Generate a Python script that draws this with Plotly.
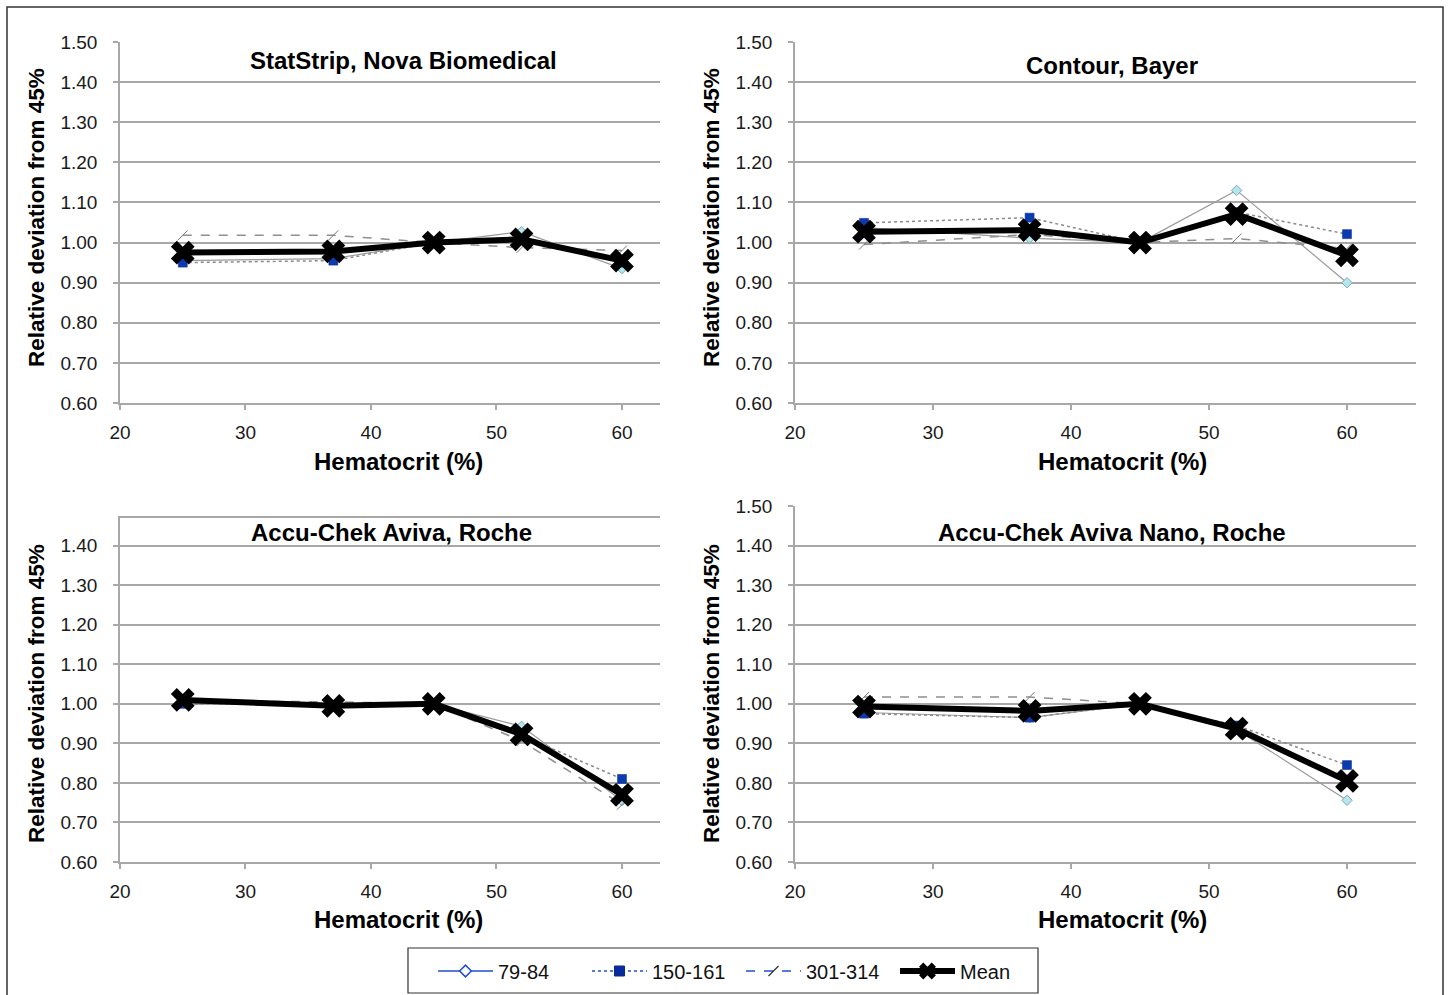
import plotly.graph_objects as go

W, H = 1450, 995

hematocrit = [25, 37, 45, 52, 60]

panel_titles = ["StatStrip, Nova Biomedical", "Contour, Bayer",
                "Accu-Chek Aviva, Roche", "Accu-Chek Aviva Nano, Roche"]

# series values per panel
s79_84 = [
    [0.955, 0.960, 1.000, 1.027, 0.935],
    [1.037, 1.011, 1.000, 1.130, 0.900],
    [1.010, 0.995, 1.000, 0.943, 0.755],
    [0.978, 0.965, 1.000, 0.935, 0.756],
]
s150_161 = [
    [0.950, 0.955, 1.000, 1.010, 0.950],
    [1.049, 1.062, 1.000, 1.076, 1.021],
    [1.000, 0.997, 1.000, 0.920, 0.810],
    [0.975, 0.965, 1.000, 0.945, 0.845],
]
s301_314 = [
    [1.018, 1.018, 1.000, 0.987, 0.980],
    [0.995, 1.020, 1.000, 1.010, 0.985],
    [1.008, 1.005, 1.000, 0.906, 0.745],
    [1.017, 1.017, 1.000, 0.930, 0.814],
]
s_mean = [
    [0.975, 0.978, 1.000, 1.008, 0.955],
    [1.027, 1.031, 1.000, 1.071, 0.968],
    [1.010, 0.995, 1.000, 0.923, 0.770],
    [0.993, 0.982, 1.000, 0.937, 0.805],
]

x_ticks = [20, 30, 40, 50, 60]
y_ticks = [0.60, 0.70, 0.80, 0.90, 1.00, 1.10, 1.20, 1.30, 1.40, 1.50]
legend_names = ["79-84", "150-161", "301-314", "Mean"]

x_title = "Hematocrit (%)"
y_title = "Relative deviation from 45%"


def px(x):
    return x / W


def py(y):
    return 1 - y / H


# panel geometry (pixels): left, right, top, bottom, x range, y range
panels = [
    dict(l=120, r=660, t=42, b=403, xr=[20, 63.03], yr=[0.6, 1.5]),
    dict(l=795, r=1416, t=42, b=403, xr=[20, 65.0], yr=[0.6, 1.5]),
    dict(l=120, r=660, t=518, b=862, xr=[20, 63.03], yr=[0.6, 1.47]),
    dict(l=795, r=1416, t=506, b=862, xr=[20, 65.0], yr=[0.6, 1.5]),
]

FONT = "Liberation Sans, Arial, sans-serif"
GRID = "#a8a8a8"
TICKSIZE = 19

fig = go.Figure()

for i in range(4):
    xa = "x" if i == 0 else f"x{i+1}"
    ya = "y" if i == 0 else f"y{i+1}"
    fig.add_trace(go.Scatter(
        x=hematocrit, y=s79_84[i], xaxis=xa, yaxis=ya, mode="lines+markers",
        line=dict(color="#9a9a9a", width=1.2),
        marker=dict(symbol="diamond", size=8, color="#b3e6ee",
                    line=dict(color="#7fa9b3", width=1)),
        showlegend=False))
    fig.add_trace(go.Scatter(
        x=hematocrit, y=s150_161[i], xaxis=xa, yaxis=ya, mode="lines+markers",
        line=dict(color="#8a8a8a", width=1.5, dash="dot"),
        marker=dict(symbol="square", size=9, color="#0a3bb0",
                    line=dict(color="#0a2a80", width=0.5)),
        showlegend=False))
    fig.add_trace(go.Scatter(
        x=hematocrit, y=s301_314[i], xaxis=xa, yaxis=ya, mode="lines+markers",
        line=dict(color="#8f8f8f", width=1.5, dash="dash"),
        marker=dict(symbol="line-ne", size=10, color="#777777",
                    line=dict(color="#777777", width=1)),
        showlegend=False))
    fig.add_trace(go.Scatter(
        x=hematocrit, y=s_mean[i], xaxis=xa, yaxis=ya, mode="lines+markers",
        line=dict(color="#000000", width=6),
        marker=dict(symbol="x", size=21, color="#000000"),
        showlegend=False))

# legend-only traces (blue styling like the reference legend)
fig.add_trace(go.Scatter(x=[None], y=[None], mode="lines+markers", name=legend_names[0],
                         line=dict(color="#1f4fd0", width=1.5),
                         marker=dict(symbol="diamond", size=9, color="white",
                                     line=dict(color="#1f4fd0", width=1.5))))
fig.add_trace(go.Scatter(x=[None], y=[None], mode="lines+markers", name=legend_names[1],
                         line=dict(color="#1f4fd0", width=1.5, dash="dot"),
                         marker=dict(symbol="square", size=10, color="#0a2aa0",
                                     line=dict(color="#0a2a80", width=1))))
fig.add_trace(go.Scatter(x=[None], y=[None], mode="lines+markers", name=legend_names[2],
                         line=dict(color="#1f4fd0", width=1.5, dash="dash"),
                         marker=dict(symbol="line-ne", size=10, color="#333333",
                                     line=dict(color="#333333", width=1.2))))
fig.add_trace(go.Scatter(x=[None], y=[None], mode="lines+markers", name=legend_names[3],
                         line=dict(color="#000000", width=6),
                         marker=dict(symbol="x", size=15, color="#000000")))

layout = dict(
    width=W, height=H, margin=dict(l=0, r=0, t=0, b=0, autoexpand=False),
    paper_bgcolor="white", plot_bgcolor="white",
    font=dict(family=FONT, size=TICKSIZE, color="#1a1a1a"),
    showlegend=True,
    legend=dict(orientation="h", x=px(433), xanchor="left", y=py(971), yanchor="middle",
                borderwidth=0, bgcolor="rgba(0,0,0,0)",
                font=dict(family=FONT, size=20, color="#111111"),
                entrywidth=84, entrywidthmode="pixels", itemwidth=55,
                tracegroupgap=0),
)

annotations = []
for i, p in enumerate(panels):
    xk = "xaxis" if i == 0 else f"xaxis{i+1}"
    yk = "yaxis" if i == 0 else f"yaxis{i+1}"
    yanchor_name = "y" if i == 0 else f"y{i+1}"
    xanchor_name = "x" if i == 0 else f"x{i+1}"
    layout[xk] = dict(
        domain=[px(p["l"]), px(p["r"])], range=p["xr"], anchor=yanchor_name,
        tickvals=x_ticks, ticktext=[str(v) for v in x_ticks], automargin=False,
        showgrid=False, zeroline=False, showline=True, linecolor=GRID, linewidth=1.5,
        ticks="outside", ticklen=5, tickcolor=GRID, tickwidth=1.5,
        ticklabelstandoff=6, mirror=(i == 2),
        tickfont=dict(family=FONT, size=TICKSIZE, color="#1a1a1a"),
    )
    layout[yk] = dict(
        domain=[py(p["b"]), py(p["t"])], range=p["yr"], anchor=xanchor_name,
        tickvals=[v for v in y_ticks if v <= p["yr"][1] + 1e-9],
        ticktext=[f"{v:.2f}" for v in y_ticks if v <= p["yr"][1] + 1e-9],
        automargin=False,
        showgrid=True, gridcolor=GRID, gridwidth=1.5,
        zeroline=False, showline=True, linecolor=GRID, linewidth=1.5,
        ticks="outside", ticklen=5, tickcolor=GRID, tickwidth=1.5,
        ticklabelstandoff=12,
        tickfont=dict(family=FONT, size=TICKSIZE, color="#1a1a1a"),
    )

title_pos = [(403, 61), (1112, 66), (391, 532), (1112, 532)]
xtitle_pos = [(399, 461), (1122, 461), (399, 919), (1122, 919)]
ytitle_pos = [(36, 218), (711, 218), (36, 694), (711, 694)]

for i in range(4):
    tx, ty = title_pos[i]
    annotations.append(dict(text=f"<b>{panel_titles[i]}</b>", x=px(tx), y=py(ty),
                            xref="paper", yref="paper", xanchor="center", yanchor="middle",
                            showarrow=False, font=dict(family=FONT, size=24, color="#000")))
    tx, ty = xtitle_pos[i]
    annotations.append(dict(text=f"<b>{x_title}</b>", x=px(tx), y=py(ty),
                            xref="paper", yref="paper", xanchor="center", yanchor="middle",
                            showarrow=False, font=dict(family=FONT, size=24, color="#000")))
    tx, ty = ytitle_pos[i]
    annotations.append(dict(text=f"<b>{y_title}</b>", x=px(tx), y=py(ty), textangle=-90,
                            xref="paper", yref="paper", xanchor="center", yanchor="middle",
                            showarrow=False, font=dict(family=FONT, size=22.5, color="#000")))

layout["annotations"] = annotations
layout["shapes"] = [
    dict(type="rect", xref="paper", yref="paper",
         x0=px(7), x1=px(1443), y0=py(1000), y1=py(7),
         line=dict(color="#333333", width=1.5), fillcolor="rgba(0,0,0,0)"),
    dict(type="rect", xref="paper", yref="paper",
         x0=px(408), x1=px(1038), y0=py(993), y1=py(948),
         line=dict(color="#333333", width=1.2), fillcolor="rgba(0,0,0,0)"),
]

fig.update_layout(**layout)
fig.write_html("out.html", config={"displayModeBar": False},
               post_script="document.body.style.margin='0';")
